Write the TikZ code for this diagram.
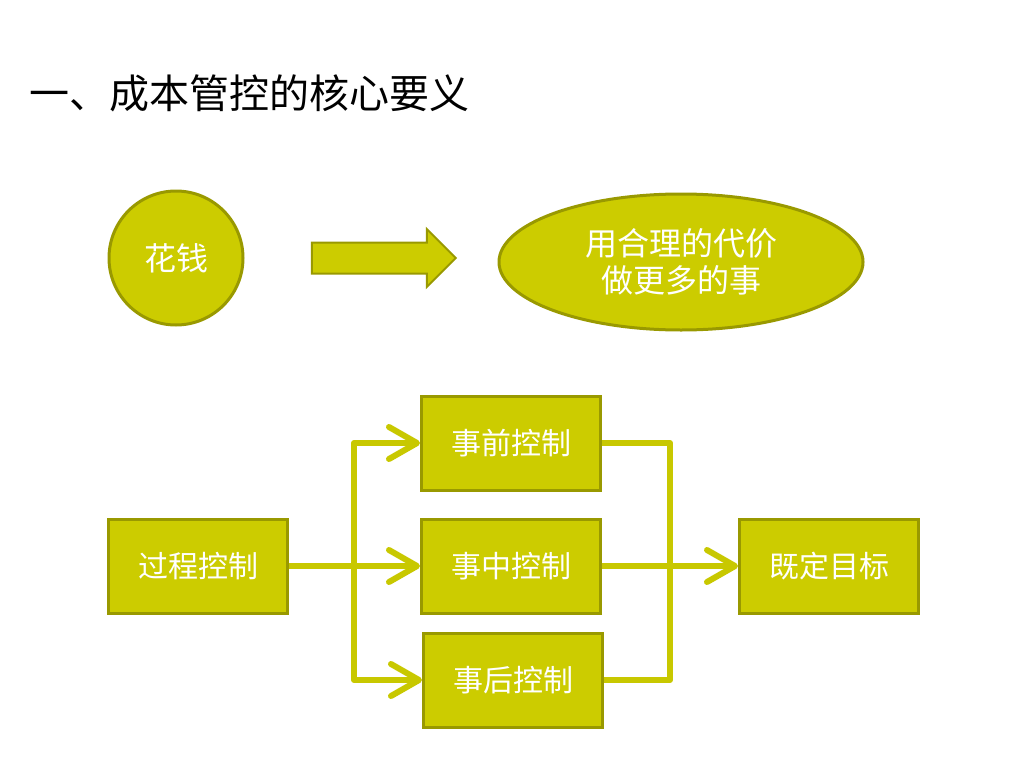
\documentclass[tikz,border=0pt]{standalone}
\usepackage{fontspec}
\usepackage{xcolor}
\usepackage{tikz}
\usetikzlibrary{positioning,calc,arrows.meta,shapes.geometric,shapes.arrows}
\newfontfamily\cjk{Noto Sans CJK SC}
\definecolor{olivefill}{HTML}{CCCC00}
\definecolor{olivedraw}{HTML}{999900}
\definecolor{oliveline}{HTML}{C8C800}

\begin{document}
\begin{tikzpicture}[
					x=1pt, y=-1pt,
					base/.style={draw=olivedraw, line width=3pt, fill=olivefill, text=white, font=\cjk\fontsize{30}{36}\selectfont, align=center},
					disc/.style={base, circle, minimum size=134pt, inner sep=0pt, font=\cjk\fontsize{32}{38}\selectfont},
					oval/.style={base, ellipse, minimum width=364pt, minimum height=136pt, inner sep=0pt, font=\cjk\fontsize{32}{37}\selectfont},
					box/.style={base, rectangle, minimum width=179pt, minimum height=94pt, inner sep=0pt},
					bigarrow/.style={draw=olivedraw, line width=2pt, fill=olivefill, single arrow, minimum height=144pt, single arrow head extend=13.5pt, single arrow tip angle=90, inner xsep=0pt, inner ysep=14.5pt},
					link/.style={oliveline, line width=6pt, line join=round},
					arrow/.style={link, -{Straight Barb[length=28pt, width=32pt, round]}},
					titletext/.style={font=\cjk\fontsize{40}{48}\selectfont, anchor=west, inner sep=0pt}
					]
					\useasboundingbox (0,0) rectangle (1024,768);
					
					% ===== TITLE =====
					\node[titletext] (title) at (29,93) {一、成本管控的核心要义};
					
					% ===== TOP ROW =====
					\node[disc] (spend) at (176,258) {花钱};
					\node[bigarrow] (turn) at (376,258) {};
					\node[oval] (better) at (681,262) {用合理的代价\\做更多的事};
					
					% ===== BOXES =====
					\node[box] (proc) at (198,566) {过程控制};
					\node[box] (pre)  at (511,443) {事前控制};
					\node[box] (mid)  at (511,566) {事中控制};
					\node[box] (post) at (513,680) {事后控制};
					\node[box] (goal) at (829,566) {既定目标};
					
					% ===== BUS POINTS =====
					\coordinate (lbus) at (354,566);
					\coordinate (rbus) at (670,566);
					
					% ===== CONNECTORS =====
					\draw[link] (lbus) |- ($(pre.west)+(-30,0)$);
					\draw[link] (lbus) |- ($(post.west)+(-30,0)$);
					\draw[arrow] (proc.east) -- (mid.west);
					\draw[arrow] ($(pre.west)+(-31,0)$) -- (pre.west);
					\draw[arrow] ($(post.west)+(-31,0)$) -- (post.west);
					
					\draw[link] (pre.east) -| (rbus);
					\draw[link] (post.east) -| (rbus);
					\draw[arrow] (mid.east) -- (goal.west);
				\end{tikzpicture}
\end{document}
